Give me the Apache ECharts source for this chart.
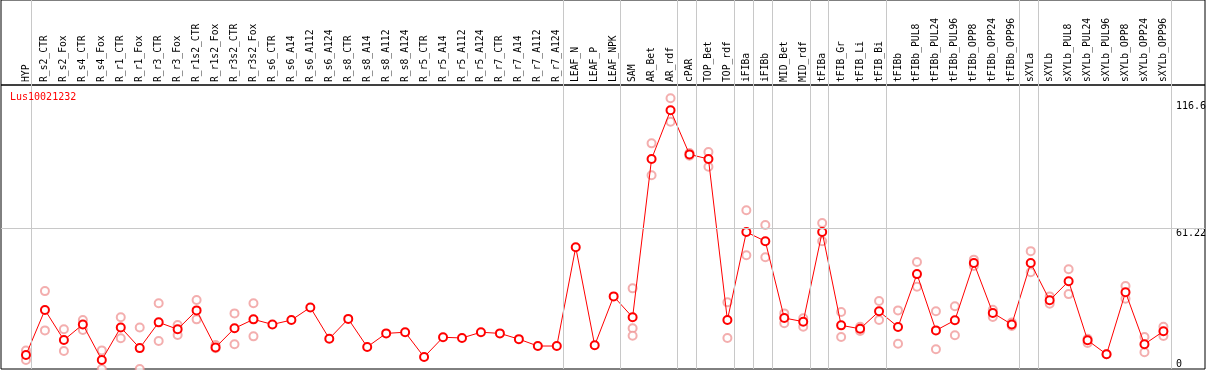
<!DOCTYPE html>
<html>
<head>
<meta charset="utf-8">
<script src="https://cdn.jsdelivr.net/npm/echarts@6/dist/echarts.min.js"></script>
<style>html,body{margin:0;padding:0;background:#fff;}#c{width:1209px;height:370px;}</style>
</head>
<body>
<div id="c"></div>
<script>
const categories = ["HYP","R_s2_CTR","R_s2_Fox","R_s4_CTR","R_s4_Fox","R_r1_CTR","R_r1_Fox","R_r3_CTR","R_r3_Fox","R_r1s2_CTR","R_r1s2_Fox","R_r3s2_CTR","R_r3s2_Fox","R_s6_CTR","R_s6_A14","R_s6_A112","R_s6_A124","R_s8_CTR","R_s8_A14","R_s8_A112","R_s8_A124","R_r5_CTR","R_r5_A14","R_r5_A112","R_r5_A124","R_r7_CTR","R_r7_A14","R_r7_A112","R_r7_A124","LEAF_N","LEAF_P","LEAF_NPK","SAM","AR_Bet","AR_rdf","cPAR","TOP_Bet","TOP_rdf","iFIBa","iFIBb","MID_Bet","MID_rdf","tFIBa","tFIB_Gr","tFIB_Li","tFIB_Bi","tFIBb","tFIBb_PUL8","tFIBb_PUL24","tFIBb_PUL96","tFIBb_OPP8","tFIBb_OPP24","tFIBb_OPP96","sXYLa","sXYLb","sXYLb_PUL8","sXYLb_PUL24","sXYLb_PUL96","sXYLb_OPP8","sXYLb_OPP24","sXYLb_OPP96"];

const meanValues = [6.1,25.7,12.6,19.4,3.9,18.1,9.1,20.3,17.3,25.5,9.4,17.7,21.6,19.4,21.3,26.8,13.2,21.8,9.6,15.5,16.0,5.2,13.8,13.5,16.0,15.5,13.0,10.0,10.0,53.0,10.3,31.6,22.5,91.4,112.6,93.4,91.4,21.3,59.6,55.6,22.2,20.6,59.6,19.0,17.5,25.1,18.3,41.3,16.8,21.2,46.1,24.4,19.4,46.1,29.9,38.2,12.5,6.4,33.4,10.8,16.4];

const replicateValues = [
  [8.0,3.9],[33.9,16.8],[17.3,7.8],[21.3,17.0],[8.1,0.0],[22.5,13.4],[18.1,0.0],[28.6,12.2],[19.1,14.8],[30.0,21.6],[10.4,9.0],[24.2,10.8],[28.6,14.2],
  [],[],[],[],[],[],[],[],[],[],[],[],[],[],[],[],
  [],[],[],
  [35.1,17.7,14.5],[98.2,84.3],[117.8,107.6],[94.0,92.8],[94.4,88.0],[29.0,13.5],[69.1,49.5],[62.7,48.6],[24.2,19.9],[22.1,18.4],[63.5,55.6],[24.8,13.9],[18.4,16.5],[29.6,21.3],
  [25.5,11.0],[46.6,35.8],[25.1,8.6],[27.3,14.7],[47.6,44.8],[25.8,22.6],[20.2,18.7],
  [51.3,42.1],[31.6,28.4],[43.4,32.6],[13.2,11.3],[6.4],[36.1,30.6],[13.9,7.3],[18.4,14.4]
];

const yTickLabels = [61.22, 116.6];
const yBottomLabel = [0];
const refLineValue = 61.22;
const yMax = 123.6;
const groupBreaks = [-1,0,28,31,34,35,37,38,39,41,42,45,52,53,60];
const seriesName = "Lus10021232";

const repData = [];
replicateValues.forEach((arr, i) => arr.forEach(v => repData.push([i, v])));

const mono = "DejaVu Sans Mono";
const chart = echarts.init(document.getElementById('c'), null, {renderer: 'canvas'});
chart.setOption({
  animation: false,
  backgroundColor: '#fff',
  title: {
    text: seriesName, left: 5, top: 87,
    textStyle: {color: '#ff0000', fontFamily: mono, fontSize: 10, fontWeight: 'normal'}
  },
  grid: [
    {left: 1, right: 4, top: 85, bottom: 1, show: true, borderColor: '#000', borderWidth: 1, backgroundColor: 'transparent'},
    {left: 1, right: 4, top: 0, bottom: 285, show: true, borderColor: '#000', borderWidth: 1, backgroundColor: 'transparent'},
    {left: 16.5, right: 33.5, top: 85, bottom: 1},
    {left: 16.5, right: 33.5, top: 0, bottom: 1}
  ],
  xAxis: [
    {gridIndex: 0, type: 'value', show: false, min: 0, max: 1},
    {gridIndex: 1, type: 'value', show: false, min: 0, max: 1},
    {gridIndex: 2, type: 'category', data: categories, position: 'top', boundaryGap: true,
     axisLine: {show: false}, axisTick: {show: false}, splitLine: {show: false},
     axisLabel: {interval: 0, rotate: 90, margin: 3, fontFamily: mono, fontSize: 9.7, color: '#000'}},
    {gridIndex: 3, type: 'value', show: false, min: -0.5, max: 60.5}
  ],
  yAxis: [
    {gridIndex: 0, type: 'value', show: false, min: 0, max: yMax},
    {gridIndex: 1, type: 'value', show: false, min: 0, max: 1},
    {gridIndex: 2, type: 'value', min: 0, max: yMax, position: 'right',
     axisLine: {show: false}, axisTick: {show: false}, splitLine: {show: false},
     axisLabel: {customValues: yTickLabels, formatter: v => String(v), verticalAlign: 'top', align: 'left', margin: 3, fontFamily: mono, fontSize: 10, color: '#000'}},
    {gridIndex: 3, type: 'value', show: false, min: 0, max: 1},
    {gridIndex: 2, type: 'value', min: 0, max: yMax, position: 'right',
     axisLine: {show: false}, axisTick: {show: false}, splitLine: {show: false},
     axisLabel: {customValues: yBottomLabel, formatter: v => String(v), verticalAlign: 'bottom', align: 'left', margin: 3, fontFamily: mono, fontSize: 10, color: '#000'}}
  ],
  series: [
    {type: 'line', xAxisIndex: 0, yAxisIndex: 0, data: [], silent: true,
     markLine: {silent: true, symbol: ['none','none'], label: {show: false},
       lineStyle: {color: '#c8c8c8', width: 1, type: 'solid'},
       data: [{yAxis: refLineValue}]}},
    {type: 'line', xAxisIndex: 3, yAxisIndex: 3, data: [], silent: true,
     markLine: {silent: true, symbol: ['none','none'], label: {show: false},
       lineStyle: {color: '#c8c8c8', width: 1, type: 'solid'},
       data: groupBreaks.map(k => ({xAxis: k + 0.25}))}},
    {type: 'scatter', xAxisIndex: 2, yAxisIndex: 2, data: repData, symbol: 'emptyCircle', symbolSize: 8,
     itemStyle: {color: '#f09a9a', borderColor: '#ee9494', borderWidth: 1.3}, z: 3},
    {type: 'line', xAxisIndex: 2, yAxisIndex: 2, data: meanValues, symbol: 'emptyCircle', symbolSize: 8,
     lineStyle: {color: '#ff0000', width: 1}, itemStyle: {color: '#ff0000', borderColor: '#ff0000', borderWidth: 1.4}, z: 4}
  ]
});
</script>
</body>
</html>
